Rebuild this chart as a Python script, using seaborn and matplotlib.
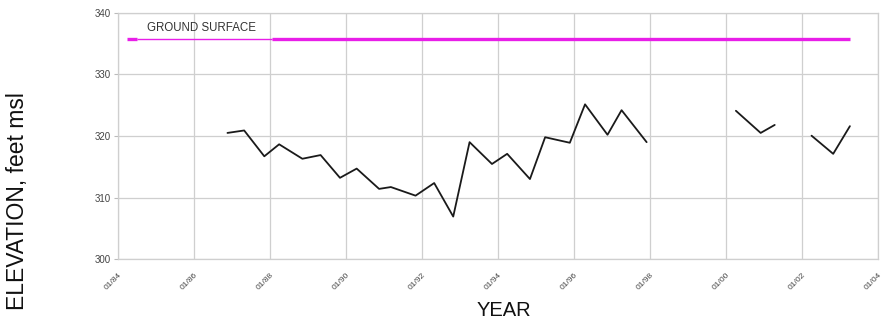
import matplotlib
matplotlib.use("Agg")
import matplotlib.pyplot as plt
import numpy as np
import pandas as pd
import seaborn as sns

# Water-level record: decimal year, elevation (ft msl), continuous segment id
years = [1986.88, 1987.32, 1987.85, 1988.24, 1988.85, 1989.33, 1989.84, 1990.28,
         1990.87, 1991.18, 1991.83, 1992.32, 1992.82, 1993.25, 1993.84, 1994.24,
         1994.84, 1995.24, 1995.89, 1996.29, 1996.88, 1997.25, 1997.91,
         2000.26, 2000.91, 2001.28,
         2002.25, 2002.82, 2003.26]
elevations = [320.5, 320.9, 316.7, 318.65, 316.3, 316.9, 313.2, 314.7,
              311.4, 311.7, 310.3, 312.35, 306.9, 319.0, 315.45, 317.1,
              313.0, 319.8, 318.9, 325.15, 320.2, 324.2, 319.0,
              324.1, 320.5, 321.8,
              320.05, 317.1, 321.6]
segments = [0] * 23 + [1] * 3 + [2] * 3

ground_elev = 335.8
ground_start, ground_label_left, ground_label_right, ground_end = 1984.24, 1984.5, 1988.05, 2003.26

tick_years = list(range(1984, 2005, 2))
tick_labels = [f"01/{y % 100:02d}" for y in tick_years]
y_ticks = [300, 310, 320, 330, 340]


def to_date(y):
    yr = int(np.floor(y))
    start = pd.Timestamp(year=yr, month=1, day=1)
    end = pd.Timestamp(year=yr + 1, month=1, day=1)
    return start + (end - start) * (y - yr)


df = pd.DataFrame({
    "date": [to_date(y) for y in years],
    "elev": elevations,
    "seg": segments,
})

sns.set_theme(style="whitegrid")
plt.rcParams["font.family"] = ["Liberation Sans", "DejaVu Sans"]

fig = plt.figure(figsize=(8.83, 3.23), dpi=100)
ax = fig.add_axes([118 / 883, 1 - 259 / 323, 760 / 883, 246 / 323])

sns.lineplot(data=df, x="date", y="elev", units="seg", estimator=None,
             color="#1a1a1a", linewidth=1.3, ax=ax)

mag = "#e81ee8"
ax.plot([to_date(ground_start), to_date(ground_label_left)], [ground_elev] * 2,
        color=mag, linewidth=2.4, solid_capstyle="butt")
ax.plot([to_date(ground_label_left), to_date(ground_label_right)], [ground_elev] * 2,
        color=mag, linewidth=1.0, solid_capstyle="butt")
ax.plot([to_date(ground_label_right), to_date(ground_end)], [ground_elev] * 2,
        color=mag, linewidth=2.4, solid_capstyle="butt")
ax.text(to_date(1984.77), 337.6, "GROUND SURFACE", fontsize=8.3,
        color="#333333", va="center", ha="left")

ax.set_xlim(to_date(1984), to_date(2004))
ax.set_ylim(300, 340)
ax.set_xticks([to_date(y) for y in tick_years])
ax.set_xticklabels(tick_labels, rotation=45, ha="right", rotation_mode="anchor",
                   fontsize=6, color="#444444")
ax.set_yticks(y_ticks)
ax.set_yticklabels([str(v) for v in y_ticks], fontsize=7, color="#444444")

ax.grid(True, color="#cfcfcf", linewidth=0.9)
for side in ax.spines.values():
    side.set_color("#cfcfcf")
    side.set_linewidth(0.9)
ax.tick_params(axis="y", length=3, width=0.8, color="#bbbbbb", pad=2, left=True)
ax.tick_params(axis="x", length=0, pad=9)

ax.set_xlabel("")
ax.set_ylabel("")
fig.text(477 / 883, 1 - 310 / 323, "YEAR", fontsize=14.5, color="#111111",
         ha="left", va="center")
fig.text(18 / 883, 1 - 201 / 323, "ELEVATION, feet msl", fontsize=16.5,
         color="#111111", rotation=90, ha="center", va="center")

fig.savefig("out.png", dpi=100, facecolor="white")
